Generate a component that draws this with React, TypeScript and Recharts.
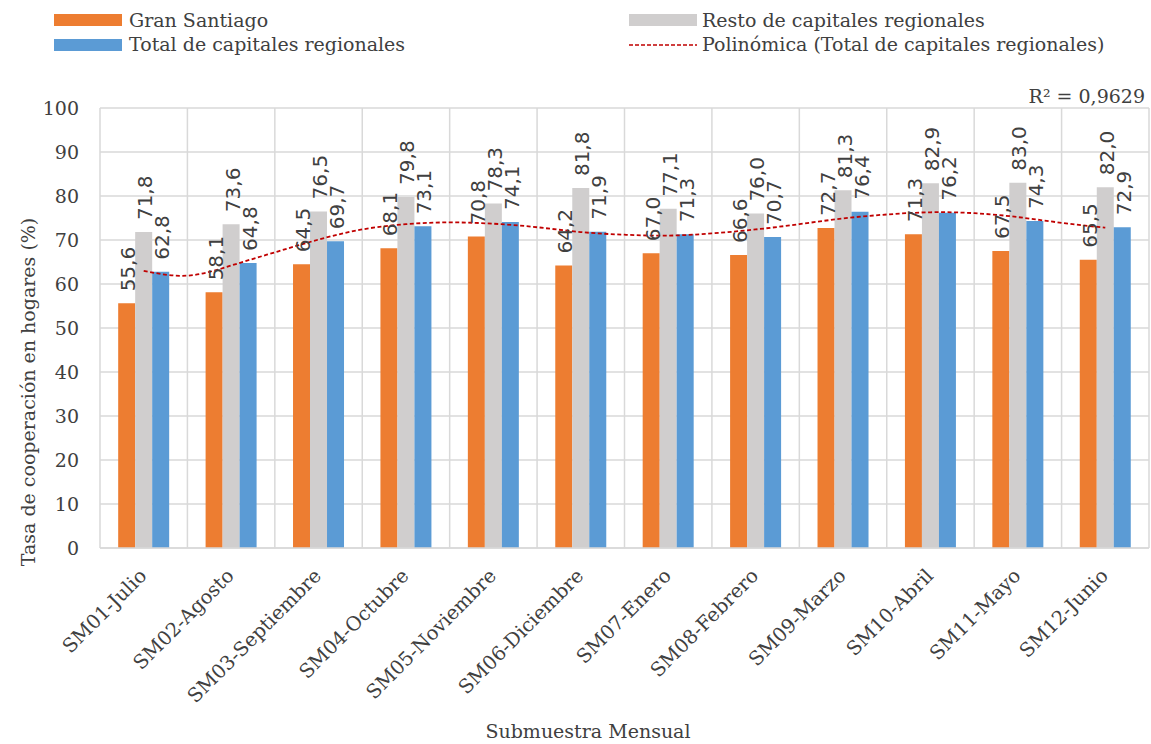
import React from 'react'
import {
  ComposedChart, Bar, Line, XAxis, YAxis, CartesianGrid, LabelList,
} from 'recharts'

const categories = [
  'SM01-Julio', 'SM02-Agosto', 'SM03-Septiembre', 'SM04-Octubre',
  'SM05-Noviembre', 'SM06-Diciembre', 'SM07-Enero', 'SM08-Febrero',
  'SM09-Marzo', 'SM10-Abril', 'SM11-Mayo', 'SM12-Junio',
]
const granSantiago = [55.6, 58.1, 64.5, 68.1, 70.8, 64.2, 67.0, 66.6, 72.7, 71.3, 67.5, 65.5]
const restoCapitales = [71.8, 73.6, 76.5, 79.8, 78.3, 81.8, 77.1, 76.0, 81.3, 82.9, 83.0, 82.0]
const totalCapitales = [62.8, 64.8, 69.7, 73.1, 74.1, 71.9, 71.3, 70.7, 76.4, 76.2, 74.3, 72.9]

// polynomial trend of the total series, sampled every half submuestra
const trendSteps = [0, 0.5, 1, 1.5, 2, 2.5, 3, 3.5, 4, 4.5, 5, 5.5, 6, 6.5, 7, 7.5, 8, 8.5, 9, 9.5, 10, 10.5, 11]
const trendValues = [63.0, 61.9, 64.2, 67.2, 70.1, 72.4, 73.6, 74.0, 73.7, 72.9, 71.8, 71.2, 71.0, 71.5, 72.4, 73.6, 74.9, 75.8, 76.3, 76.1, 75.2, 73.9, 72.8]
const yTicks = [0, 10, 20, 30, 40, 50, 60, 70, 80, 90, 100]
const r2Label = 'R² = 0,9629'

const W = 1151
const H = 744
const SERIF = '"DejaVu Serif", serif'
const TEXT = '#404040'
const ORANGE = '#ED7D31'
const GRAY = '#D0CECE'
const BLUE = '#5B9BD5'
const TREND = '#C00000'

const data = categories.map((cat, i) => ({
  cat,
  gs: granSantiago[i],
  resto: restoCapitales[i],
  total: totalCapitales[i],
}))
const trendData = trendSteps.map((t, i) => ({ t, v: trendValues[i] }))

const fmt = (v: number) => v.toFixed(1).replace('.', ',')

function ValueLabel(props: any) {
  const { x, y, width, value } = props
  const cx = x + width / 2 + 1.5
  const ty = y - 12
  return (
    <text
      x={cx} y={ty} transform={`rotate(-90 ${cx} ${ty})`}
      fontFamily='"DejaVu Sans", sans-serif' fontSize={20} fill={TEXT}
      textAnchor="start" dominantBaseline="central"
    >
      {fmt(value)}
    </text>
  )
}

function CatTick({ x, y, payload }: any) {
  const ax = x + 4
  const ay = y + 29
  return (
    <text
      x={ax} y={ay} transform={`rotate(-45 ${ax} ${ay})`}
      textAnchor="end" fontFamily={SERIF} fontSize={19.5} fill={TEXT}
    >
      {payload.value}
    </text>
  )
}

function Overlay() {
  const txt = { fontFamily: SERIF, fontSize: 19, fill: TEXT }
  return (
    <svg width={W} height={H} style={{ position: 'absolute', left: 0, top: 0, pointerEvents: 'none' }}>
      <rect x={54} y={14} width={68} height={12} fill={ORANGE} />
      <text x={129} y={26.5} {...txt}>Gran Santiago</text>
      <rect x={54} y={39} width={68} height={12} fill={BLUE} />
      <text x={129} y={51} {...txt}>Total de capitales regionales</text>
      <rect x={629} y={14} width={68} height={12} fill={GRAY} />
      <text x={702} y={26.5} {...txt}>Resto de capitales regionales</text>
      <line x1={629} x2={697} y1={45} y2={45} stroke={TREND} strokeWidth={1.5} strokeDasharray="4 2" />
      <text x={702} y={51} {...txt}>Polinómica (Total de capitales regionales)</text>

      <text x={1145} y={103} textAnchor="end" {...txt}>{r2Label}</text>

      <text x={35} y={392} textAnchor="middle" transform="rotate(-90 35 392)" {...txt}>
        Tasa de cooperación en hogares (%)
      </text>
      <text x={588} y={738} textAnchor="middle" {...txt}>Submuestra Mensual</text>
    </svg>
  )
}

export default function App() {
  return (
    <div style={{ position: 'absolute', left: 0, top: 0, width: W, height: H, background: '#fff' }}>
      <ComposedChart
        width={W} height={H} data={data}
        margin={{ top: 108, right: 2, left: 0, bottom: 0 }}
        barCategoryGap="20.8%" barGap={0}
      >
        <CartesianGrid
          stroke="#D9D9D9" strokeWidth={1.5}
          verticalCoordinatesGenerator={({ offset }: any) =>
            categories.map((_, i) => offset.left + (i * offset.width) / categories.length)
              .concat(offset.left + offset.width)}
        />
        <XAxis
          dataKey="cat" interval={0} height={196}
          axisLine={{ stroke: '#D9D9D9', strokeWidth: 1.5 }}
          tickLine={false} tickSize={0} tickMargin={0} tick={<CatTick />}
        />
        <XAxis xAxisId="trend" type="number" dataKey="t" domain={[-0.5, 11.5]} hide />
        <YAxis
          domain={[0, 100]} ticks={yTicks} width={100} interval={0}
          axisLine={false} tickLine={false} tickSize={0} tickMargin={21}
          tick={{ fontFamily: SERIF, fontSize: 19, fill: TEXT }}
        />
        <Bar dataKey="gs" fill={ORANGE} isAnimationActive={false}>
          <LabelList dataKey="gs" content={<ValueLabel />} />
        </Bar>
        <Bar dataKey="resto" fill={GRAY} isAnimationActive={false}>
          <LabelList dataKey="resto" content={<ValueLabel />} />
        </Bar>
        <Bar dataKey="total" fill={BLUE} isAnimationActive={false}>
          <LabelList dataKey="total" content={<ValueLabel />} />
        </Bar>
        <Line
          xAxisId="trend" data={trendData} dataKey="v" type="natural"
          stroke={TREND} strokeWidth={1.8} strokeDasharray="4 2.5"
          dot={false} activeDot={false} isAnimationActive={false}
        />
      </ComposedChart>
      <Overlay />
    </div>
  )
}
